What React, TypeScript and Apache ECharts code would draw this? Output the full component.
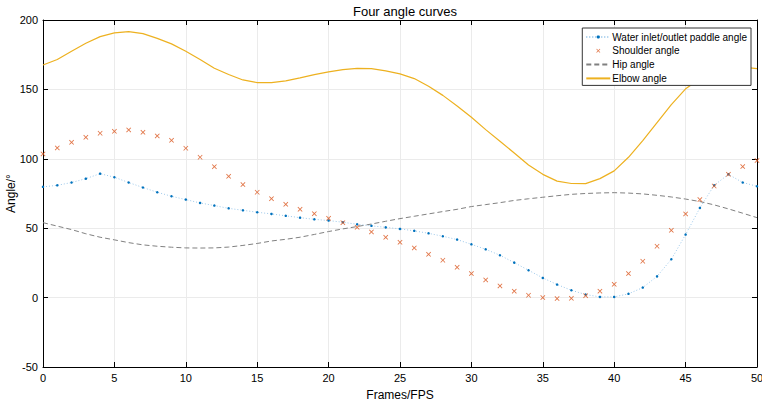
import React, { useEffect, useRef } from "react";
import * as echarts from "echarts";

const frames: number[] = Array.from({ length: 51 }, (_, i) => i);

const waterAngle: number[] = [
  79.8, 80.9, 82.9, 85.7, 89.3, 86.7, 82.9, 79.3, 75.9, 73.0,
  70.6, 68.2, 66.3, 64.3, 62.9, 61.5, 60.3, 58.9, 57.6, 56.4,
  55.5, 54.3, 52.8, 51.7, 50.6, 49.5, 48.1, 46.3, 44.2, 41.8,
  38.4, 34.8, 30.5, 25.2, 19.7, 14.2, 9.4, 5.3, 2.2, 0.5,
  0.5, 2.7, 7.2, 15.3, 27.6, 45.4, 64.6, 80.9, 88.8, 82.9,
  80.2,
];

const shoulderAngle: number[] = [
  103.5, 107.8, 111.9, 115.5, 118.4, 119.8, 120.8, 119.1, 116.5, 113.3,
  107.6, 101.1, 94.3, 87.4, 81.4, 75.9, 71.3, 67.2, 63.6, 60.5,
  57.1, 54.0, 50.6, 47.3, 43.4, 39.8, 35.8, 31.2, 26.9, 21.8,
  17.3, 12.7, 8.4, 4.6, 1.7, 0.0, -0.7, -0.5, 1.4, 4.6,
  9.6, 17.3, 26.2, 37.0, 48.5, 60.3, 70.6, 80.4, 88.8, 94.4,
  98.7,
];

const hipAngle: number[] = [
  54.0, 51.5, 49.0, 46.0, 43.5, 41.6, 39.6, 38.0, 37.0, 36.3,
  35.8, 35.7, 35.8, 36.4, 37.6, 39.0, 40.8, 42.0, 43.5, 45.5,
  47.6, 49.5, 51.2, 53.0, 55.0, 56.9, 58.6, 60.3, 62.0, 63.6,
  65.6, 67.0, 68.4, 70.0, 71.2, 72.3, 73.4, 74.4, 75.0, 75.4,
  75.6, 75.3, 74.7, 73.7, 72.5, 71.0, 69.2, 66.8, 63.9, 60.8,
  57.6,
];

const elbowAngle: number[] = [
  167.6, 171.5, 177.5, 183.2, 188.0, 190.7, 191.6, 190.2, 186.8, 182.8,
  177.5, 171.5, 165.2, 160.7, 156.8, 154.9, 154.9, 156.1, 158.3, 160.7,
  162.6, 164.3, 165.2, 165.0, 163.3, 161.2, 157.8, 152.2, 145.7, 138.1,
  129.9, 121.0, 112.6, 104.2, 95.5, 88.8, 83.9, 82.2, 82.1, 85.7,
  91.3, 101.1, 113.1, 126.1, 139.0, 150.4, 157.5, 162.5, 165.5, 166.0,
  165.0,
];

const seriesNames: string[] = [
  "Water inlet/outlet paddle angle",
  "Shoulder angle",
  "Hip angle",
  "Elbow angle",
];

const FONT = "Liberation Sans, Arial, sans-serif";
const X_SYMBOL =
  "path://M0,1.2L1.2,0L5,3.8L8.8,0L10,1.2L6.2,5L10,8.8L8.8,10L5,6.2L1.2,10L0,8.8L3.8,5Z";

const pairs = (ys: number[]) => frames.map((x, i) => [x, ys[i]]);

export default function App() {
  const ref = useRef<HTMLDivElement>(null);
  useEffect(() => {
    if (!ref.current) return;
    const chart = echarts.init(ref.current, undefined, { renderer: "svg" });
    const axisLine = { show: true, onZero: false, lineStyle: { color: "#000", width: 1 } };
    const axisTick = { show: true, inside: true, length: 5, lineStyle: { color: "#000" } };
    chart.setOption({
      animation: false,
      backgroundColor: "#fff",
      textStyle: { fontFamily: FONT },
      title: {
        text: "Four angle curves",
        left: 400,
        top: 0,
        textAlign: "center",
        textStyle: { fontSize: 13, fontWeight: "normal", color: "#000", fontFamily: FONT },
      },
      grid: {
        left: 43,
        right: 5,
        top: 20,
        bottom: 37,
        containLabel: false,
        outerBoundsMode: "none",
      },
      legend: {
        orient: "vertical",
        right: 11,
        top: 28,
        padding: [3, 4, 1, 3],
        itemGap: 1.8,
        itemWidth: 24,
        itemHeight: 4,
        backgroundColor: "#fff",
        borderColor: "#333",
        borderWidth: 1,
        textStyle: {
          fontSize: 10,
          lineHeight: 12,
          color: "#000",
          fontFamily: FONT,
          padding: [0, 0, 0, -3],
        },
        data: [
          { name: seriesNames[0] },
          { name: seriesNames[1] },
          { name: seriesNames[2], itemStyle: { opacity: 0 } },
          { name: seriesNames[3], itemStyle: { opacity: 0 } },
        ],
        z: 10,
      },
      xAxis: [
        {
          type: "value",
          min: 0,
          max: 50,
          interval: 5,
          name: "Frames/FPS",
          nameLocation: "middle",
          nameGap: 22,
          nameMoveOverlap: false,
          nameTextStyle: { fontSize: 12, color: "#000", fontFamily: FONT },
          axisLabel: { fontSize: 11, color: "#000", margin: 5, fontFamily: FONT },
          splitLine: { show: true, lineStyle: { color: "#ebebeb", width: 1 } },
          axisLine,
          axisTick,
        },
        {
          type: "value",
          position: "top",
          min: 0,
          max: 50,
          interval: 5,
          axisLabel: { show: false },
          splitLine: { show: false },
          axisLine,
          axisTick,
        },
      ],
      yAxis: [
        {
          type: "value",
          min: -50,
          max: 200,
          interval: 50,
          name: "Angle/°",
          nameLocation: "middle",
          nameGap: 26,
          nameMoveOverlap: false,
          nameTextStyle: { fontSize: 12, color: "#000", fontFamily: FONT },
          axisLabel: { fontSize: 11, color: "#000", margin: 5, fontFamily: FONT },
          splitLine: { show: true, lineStyle: { color: "#ebebeb", width: 1 } },
          axisLine,
          axisTick,
        },
        {
          type: "value",
          position: "right",
          min: -50,
          max: 200,
          interval: 50,
          axisLabel: { show: false },
          splitLine: { show: false },
          axisLine,
          axisTick,
        },
      ],
      series: [
        {
          name: seriesNames[0],
          type: "line",
          data: pairs(waterAngle),
          symbol: "circle",
          symbolSize: 2.5,
          showSymbol: true,
          itemStyle: { color: "#0072BD" },
          lineStyle: { color: "#9cc8ea", width: 1, type: [1, 2] },
          z: 3,
        },
        {
          name: seriesNames[1],
          type: "scatter",
          data: pairs(shoulderAngle),
          symbol: X_SYMBOL,
          symbolSize: 5,
          itemStyle: { color: "#D95319" },
          z: 4,
        },
        {
          name: seriesNames[2],
          type: "line",
          data: pairs(hipAngle),
          symbol: "none",
          itemStyle: { color: "#808080" },
          lineStyle: { color: "#808080", width: 1, type: [5, 3] },
          z: 2,
        },
        {
          name: seriesNames[3],
          type: "line",
          data: pairs(elbowAngle),
          symbol: "none",
          itemStyle: { color: "#EDB120" },
          lineStyle: { color: "#EDB120", width: 1.2 },
          z: 2,
        },
      ],
    });
    return () => chart.dispose();
  }, []);
  return (
    <div
      ref={ref}
      style={{ width: 762, height: 404, position: "absolute", left: 0, top: 0 }}
    />
  );
}
